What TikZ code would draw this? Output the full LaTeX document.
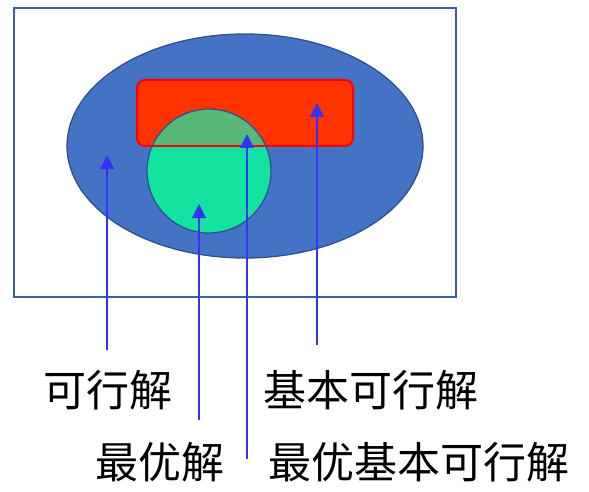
\documentclass[tikz,border=0pt]{standalone}
\usepackage{fontspec}
\newfontfamily\cjk{Noto Sans CJK SC}
\usetikzlibrary{arrows.meta}
\definecolor{frameblue}{HTML}{3A5FA5}
\definecolor{ellfill}{HTML}{4472C4}
\definecolor{ellline}{HTML}{2F528F}
\definecolor{redfill}{HTML}{FF3300}
\definecolor{redline}{HTML}{FF0000}
\definecolor{greenfill}{HTML}{14E3A0}
\definecolor{overlapfill}{HTML}{58B878}
\definecolor{arrowblue}{HTML}{3333FF}
\tikzset{
  pointer/.style={draw=arrowblue, line width=1.2pt, -{Triangle[length=14pt,width=14pt]}},
  lbl/.style={font=\cjk\fontsize{43}{46}\selectfont, inner sep=0pt, anchor=west}
}
\begin{document}
\begin{tikzpicture}[x=1pt,y=-1pt]
\useasboundingbox (0,0) rectangle (589,492);
% outer frame
\draw[frameblue, line width=2.5pt, fill=white] (14,8) rectangle (456,297);
% ellipse
\draw[ellline, line width=1.3pt, fill=ellfill] (245,146) ellipse [x radius=178, y radius=112];
% red rectangle
\draw[redline, line width=2pt, fill=redfill, rounded corners=8pt] (137,80) rectangle (353,146);
% green circle
\draw[fill=greenfill, draw=none] (209,171) circle [radius=62];
\begin{scope}
  \clip (137,80) rectangle (353,146);
  \fill[overlapfill] (209,171) circle [radius=62];
\end{scope}
\draw[redline, line width=2pt] (148,146) -- (270,146);
\draw[ellline, line width=1.3pt] (209,171) circle [radius=62];
% arrow ends
\coordinate (t1) at (107,155);
\coordinate (b1) at (107,350);
\coordinate (t2) at (199,204);
\coordinate (b2) at (199,420);
\coordinate (t3) at (247,134);
\coordinate (b3) at (247,459);
\coordinate (t4) at (317,103);
\coordinate (b4) at (317,345);
\draw[pointer] (b1) -- (t1);
\draw[pointer] (b2) -- (t2);
\draw[pointer] (b3) -- (t3);
\draw[pointer] (b4) -- (t4);
% labels
\node[lbl] (kxj) at (43,390) {可行解};
\node[lbl] (jbkxj) at (263,390) {基本可行解};
\node[lbl] (zyj) at (95,462) {最优解};
\node[lbl] (zyjbkxj) at (268,462) {最优基本可行解};
\end{tikzpicture}
\end{document}
